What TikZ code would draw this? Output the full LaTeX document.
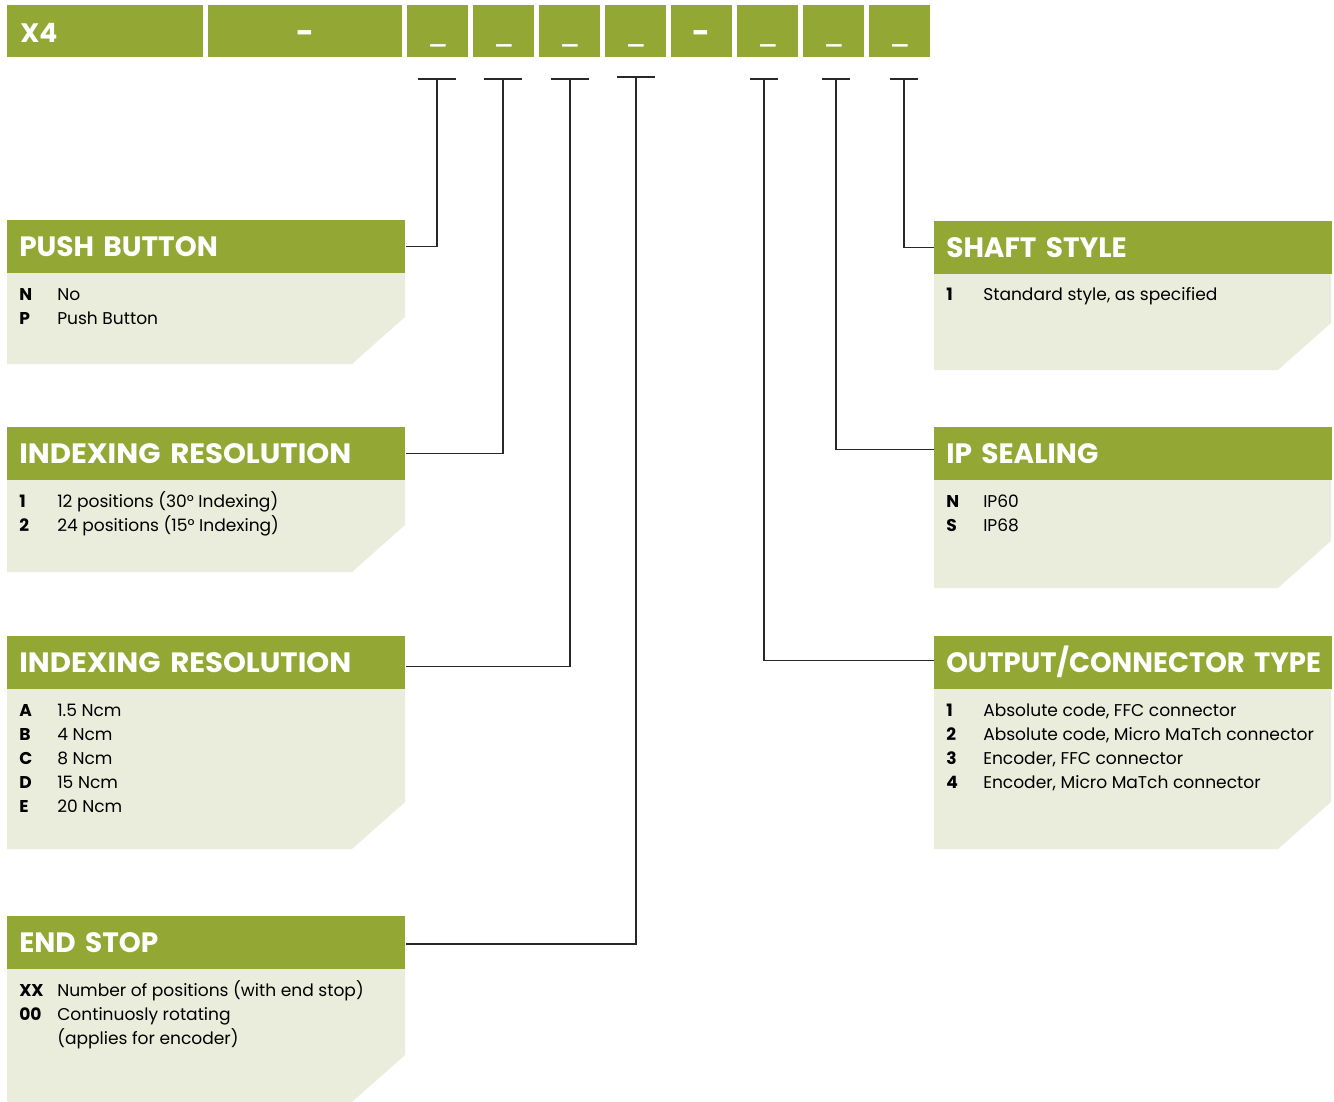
\documentclass[tikz,border=0pt]{standalone}
\usepackage{fontspec}
\usepackage{graphicx}
\setmainfont{Poppins}
\definecolor{grn}{RGB}{147,168,52}
\definecolor{pale}{RGB}{234,237,220}
\definecolor{linec}{RGB}{40,40,40}
\newcommand{\chambox}[4]{\fill[pale] (#1,#3) -- (#2,#3) -- (#2,#4-47) -- (#2-53,#4) -- (#1,#4) -- cycle;}
\tikzset{
 cell/.style={fill=grn, anchor=north west, inner sep=0pt, minimum height=39pt, minimum width=45.75pt},
 celltxt/.style={text=white, font=\bfseries\fontsize{20}{24}\selectfont, anchor=base, inner sep=0pt},
 hdr/.style={fill=grn, anchor=north west, inner xsep=9pt, inner ysep=0pt, minimum height=39.75pt, text width=280.5pt, align=left, text=white, font=\bfseries\fontsize{21}{25}\selectfont, text height=15pt, text depth=0pt},
 key/.style={anchor=base west, inner sep=0pt, font=\bfseries\fontsize{12.8}{15}\selectfont},
 desc/.style={anchor=base west, inner sep=0pt, font=\fontsize{12.8}{15}\selectfont},
 conn/.style={draw=linec, line width=1pt},
}
\begin{document}
\begin{tikzpicture}[x=0.75pt,y=-0.75pt]
\useasboundingbox (0,0) rectangle (1334,1102);
% top code bar
\node[cell, minimum width=147pt] (c0) at (7,5) {};
\node[cell, minimum width=145.5pt] (c1) at (208,5) {};
\foreach \i/\x in {2/407,3/473,4/539,5/605,6/671,7/737,8/803,9/869}{
  \node[cell] (c\i) at (\x,5) {};
}
\node[celltxt, anchor=base west] (x4) at (20,43) {X4};
\node[celltxt, font=\bfseries\fontsize{23}{26}\selectfont] (d1) at (c1.center |- 0,44) {-};
\node[celltxt, font=\bfseries\fontsize{23}{26}\selectfont] (d6) at (c6.center |- 0,44) {-};
\foreach \i in {2,3,4,5,7,8,9}{
  \node[celltxt, font=\fontsize{22}{24}\selectfont] (u\i) at (c\i.center |- 0,44) {\_};
}
% tick coordinates
\coordinate (t1) at (437,79);
\coordinate (t2) at (503,79);
\coordinate (t3) at (570,79);
\coordinate (t4) at (636,77);
\coordinate (t5) at (764,79);
\coordinate (t6) at (836,79);
\coordinate (t7) at (904,79);
% left boxes
\node[hdr] (h1) at (7,220) {PUSH BUTTON};
\chambox{7}{405}{273}{364}
\node[key] at (19,300) {N}; \node[desc] at (57,300) {No};
\node[key] at (19,324) {P}; \node[desc] at (57,324) {Push Button};

\node[hdr] (h2) at (7,427) {\resizebox{249pt}{\height}{INDEXING RESOLUTION}};
\chambox{7}{405}{480}{572}
\node[key] at (19,507) {1}; \node[desc] at (57,507) {12 positions (30° Indexing)};
\node[key] at (19,531) {2}; \node[desc] at (57,531) {24 positions (15° Indexing)};

\node[hdr] (h3) at (7,636) {\resizebox{249pt}{\height}{INDEXING RESOLUTION}};
\chambox{7}{405}{689}{849}
\node[key] at (19,716) {A}; \node[desc] at (57,716) {1.5 Ncm};
\node[key] at (19,740) {B}; \node[desc] at (57,740) {4 Ncm};
\node[key] at (19,764) {C}; \node[desc] at (57,764) {8 Ncm};
\node[key] at (19,788) {D}; \node[desc] at (57,788) {15 Ncm};
\node[key] at (19,812) {E}; \node[desc] at (57,812) {20 Ncm};

\node[hdr] (h4) at (7,916) {END STOP};
\chambox{7}{405}{969}{1102}
\node[key] at (19,996) {XX}; \node[desc] at (57,996) {Number of positions (with end stop)};
\node[key] at (19,1020) {00}; \node[desc] at (57,1020) {Continuosly rotating};
\node[desc] at (57,1044) {(applies for encoder)};

% right boxes
\node[hdr] (hA) at (934,221) {SHAFT STYLE};
\chambox{934}{1331}{274}{370}
\node[key] at (946,300) {1}; \node[desc] at (983,300) {Standard style, as specified};

\node[hdr] (hB) at (934,427) {IP SEALING};
\chambox{934}{1331}{480}{588}
\node[key] at (946,507) {N}; \node[desc] at (983,507) {IP60};
\node[key] at (946,531) {S}; \node[desc] at (983,531) {IP68};

\node[hdr] (hC) at (934,636) {\resizebox{281pt}{\height}{OUTPUT/CONNECTOR TYPE}};
\chambox{934}{1331}{689}{849}
\node[key] at (946,716) {1}; \node[desc] at (983,716) {Absolute code, FFC connector};
\node[key] at (946,740) {2}; \node[desc] at (983,740) {Absolute code, Micro MaTch connector};
\node[key] at (946,764) {3}; \node[desc] at (983,764) {Encoder, FFC connector};
\node[key] at (946,788) {4}; \node[desc] at (983,788) {Encoder, Micro MaTch connector};

% connectors
\foreach \t in {t1,t2,t3,t4}{ \draw[conn] ([xshift=-14.25pt]\t) -- ([xshift=14.25pt]\t); }
\foreach \t in {t5,t6,t7}{ \draw[conn] ([xshift=-10.5pt]\t) -- ([xshift=10.5pt]\t); }
\draw[conn] (t1) |- (h1.east);
\draw[conn] (t2) |- (h2.east);
\draw[conn] (t3) |- ([yshift=-2.6pt]h3.east);
\draw[conn] (t4) |- ([yshift=-1pt]h4.east);
\draw[conn] (t5) |- ([yshift=1.9pt]hC.west);
\draw[conn] (t6) |- ([yshift=3.4pt]hB.west);
\draw[conn] (t7) |- (hA.west);
\end{tikzpicture}
\end{document}
